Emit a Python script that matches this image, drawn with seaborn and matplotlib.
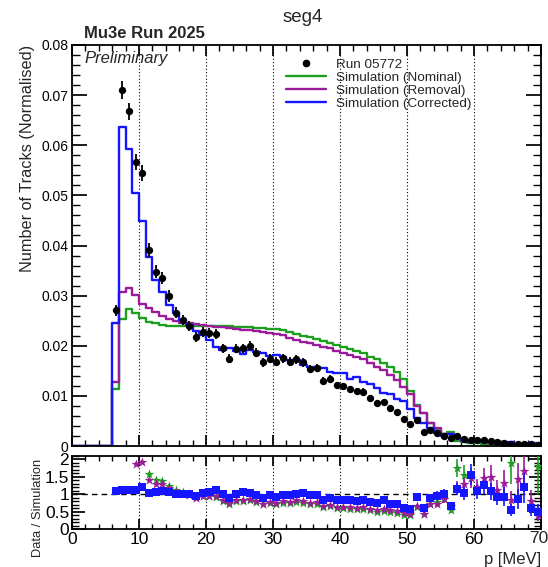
import numpy as np
import pandas as pd
import matplotlib
matplotlib.use("Agg")
import matplotlib.pyplot as plt
from matplotlib.lines import Line2D
from matplotlib.ticker import MultipleLocator, FuncFormatter
import seaborn as sns

sns.set_theme(style="ticks")
plt.rcParams["font.family"] = ["Liberation Sans", "DejaVu Sans"]

# 1 MeV momentum bins from 0 to 70 MeV
bin_edges = list(range(0, 71))
bin_centres = np.arange(70) + 0.5

# Measured track momentum spectrum (normalised), bins 6..69
data_p = bin_centres[6:]
data_val = [
    0.0271, 0.0710, 0.0668, 0.0567, 0.0545, 0.0391, 0.0348, 0.0335, 0.0299, 0.0266,
    0.0251, 0.0240, 0.0218, 0.0227, 0.0225, 0.0223, 0.0195, 0.0174, 0.0194, 0.0195,
    0.0200, 0.0186, 0.0167, 0.0174, 0.0168, 0.0175, 0.0168, 0.0173, 0.0167, 0.0153,
    0.0155, 0.0130, 0.0134, 0.0121, 0.0119, 0.0113, 0.0109, 0.0108, 0.0096, 0.0086,
    0.0088, 0.0076, 0.0067, 0.0054, 0.0043, 0.0052, 0.0028, 0.0032, 0.0025, 0.0020,
    0.0015, 0.0019, 0.0013, 0.0012, 0.0012, 0.0011, 0.0009, 0.0007, 0.0005, 0.0004,
    0.0004, 0.0003, 0.0003, 0.0002,
]
data_err = [
    0.00109, 0.00176, 0.00171, 0.00157, 0.00154, 0.00130, 0.00123, 0.00121, 0.00114, 0.00108,
    0.00105, 0.00102, 0.00097, 0.00099, 0.00099, 0.00099, 0.00092, 0.00087, 0.00092, 0.00092,
    0.00093, 0.00090, 0.00085, 0.00087, 0.00086, 0.00087, 0.00086, 0.00087, 0.00085, 0.00082,
    0.00082, 0.00075, 0.00076, 0.00073, 0.00072, 0.00070, 0.00069, 0.00069, 0.00065, 0.00061,
    0.00062, 0.00058, 0.00054, 0.00049, 0.00043, 0.00048, 0.00035, 0.00037, 0.00033, 0.00030,
    0.00026, 0.00029, 0.00024, 0.00023, 0.00023, 0.00022, 0.00020, 0.00017, 0.00015, 0.00013,
    0.00013, 0.00011, 0.00011, 0.00009,
]

# Simulated spectra, bins 0..69
sim_nominal = [
    0, 0, 0, 0, 0, 0, 0.0114, 0.0253, 0.0273, 0.0265,
    0.0255, 0.0248, 0.0245, 0.0241, 0.0240, 0.0239, 0.0239, 0.0239, 0.0239, 0.0240,
    0.0240, 0.0240, 0.0239, 0.0239, 0.0238, 0.0238, 0.0237, 0.0236, 0.0235, 0.0234,
    0.0233, 0.0231, 0.0228, 0.0224, 0.0220, 0.0217, 0.0213, 0.0209, 0.0205, 0.0201,
    0.0197, 0.0194, 0.0190, 0.0185, 0.0178, 0.0173, 0.0166, 0.0158, 0.0147, 0.0133,
    0.0110, 0.0082, 0.0066, 0.0045, 0.0032, 0.0023, 0.0027, 0.00108, 0.00083, 0.0005,
    0.0005, 0.0004, 0.0004, 0.0003, 0.0002, 0.00021, 0.00015, 0.0001, 0.0001, 0.00011,
]
sim_removal = [
    0, 0, 0, 0, 0, 0, 0.0127, 0.0308, 0.0315, 0.0301,
    0.0283, 0.0275, 0.0267, 0.0259, 0.0253, 0.0249, 0.0246, 0.0245, 0.0243, 0.0241,
    0.0240, 0.0238, 0.0237, 0.0236, 0.0234, 0.0232, 0.0231, 0.0229, 0.0228, 0.0226,
    0.0224, 0.0221, 0.0216, 0.0211, 0.0208, 0.0205, 0.0201, 0.0198, 0.0195, 0.0190,
    0.0186, 0.0181, 0.0178, 0.0173, 0.0166, 0.0158, 0.0152, 0.0142, 0.0132, 0.0118,
    0.0103, 0.0080, 0.0066, 0.0045, 0.0035, 0.0023, 0.0023, 0.0016, 0.0010, 0.00082,
    0.0010, 0.00075, 0.0006, 0.00062, 0.00038, 0.00048, 0.00028, 0.00018, 0.00037, 0.0005,
]
sim_corrected = [
    0, 0, 0, 0, 0, 0, 0.0246, 0.0637, 0.0592, 0.0504,
    0.0448, 0.0378, 0.0331, 0.0307, 0.0282, 0.0265, 0.0251, 0.0241, 0.0229, 0.0222,
    0.0211, 0.0198, 0.0192, 0.0196, 0.0190, 0.0184, 0.0191, 0.0188, 0.0185, 0.0180,
    0.0181, 0.0178, 0.0171, 0.0171, 0.0161, 0.0158, 0.0158, 0.0155, 0.0148, 0.0145,
    0.0145, 0.0134, 0.0137, 0.0128, 0.0124, 0.0116, 0.0106, 0.0104, 0.0093, 0.0090,
    0.0074, 0.0056, 0.0046, 0.0036, 0.0026, 0.0020, 0.0023, 0.00165, 0.00126, 0.00077,
    0.00111, 0.00087, 0.00083, 0.00076, 0.00054, 0.00073, 0.00046, 0.00025, 0.0005, 0.0004,
]

series = [
    ("Simulation (Nominal)", sim_nominal, "#1f9f1f", "*"),
    ("Simulation (Removal)", sim_removal, "#9b1b9b", "*"),
    ("Simulation (Corrected)", sim_corrected, "#1515ff", "s"),
]

W, H = 548, 567
fig = plt.figure(figsize=(W / 100, H / 100), dpi=100)
fig.patch.set_facecolor("white")


def frac_box(x0, y0, x1, y1):
    return [x0 / W, 1 - y1 / H, (x1 - x0) / W, (y1 - y0) / H]


ax = fig.add_axes(frac_box(72, 45, 541, 446))
rax = fig.add_axes(frac_box(72, 456, 541, 529))

# ---- main panel ----
for label, vals, col, _ in series:
    hist_df = pd.DataFrame({"p": bin_centres, "w": vals})
    sns.histplot(data=hist_df, x="p", weights="w", bins=bin_edges, element="step",
                 fill=False, color=col, linewidth=1.7, ax=ax)

ax.errorbar(data_p, data_val, yerr=data_err, fmt="none", ecolor="black",
            elinewidth=1.3, capsize=0, zorder=4)
sns.scatterplot(x=data_p, y=data_val, color="black", s=28, linewidth=0,
                ax=ax, zorder=5)

ax.set_xlim(0, 70)
ax.set_ylim(0, 0.08)
ax.set_xlabel("")
ax.set_ylabel("Number of Tracks (Normalised)", fontsize=11.7, loc="top")
ax.yaxis.set_label_coords(-0.079, 1.0)
ax.xaxis.set_major_locator(MultipleLocator(10))
ax.xaxis.set_minor_locator(MultipleLocator(2))
ax.yaxis.set_major_locator(MultipleLocator(0.01))
ax.yaxis.set_minor_locator(MultipleLocator(0.002))
ax.yaxis.set_major_formatter(FuncFormatter(lambda v, _: "0" if v == 0 else f"{v:.2f}"))
ax.tick_params(axis="both", which="both", direction="in", top=True, right=True,
               labelsize=10, colors="black", pad=2.6)
ax.tick_params(axis="x", which="major", length=8, labelbottom=False)
ax.tick_params(axis="x", which="minor", length=4)
ax.tick_params(axis="y", which="major", length=11)
ax.tick_params(axis="y", which="minor", length=6)
ax.grid(axis="x", which="major", linestyle=(0, (1, 2)), color="black", linewidth=0.8)

handles = [Line2D([], [], marker="o", color="black", linestyle="none", markersize=4.5)]
handles += [Line2D([], [], color=col, linewidth=1.7) for _, _, col, _ in series]
labels = ["Run 05772"] + [s[0] for s in series]
ax.legend(handles, labels, loc="upper left", bbox_to_anchor=(0.4445, 0.980),
          frameon=False, fontsize=9.7, handlelength=2.95, handletextpad=0.74,
          labelspacing=0.05, borderaxespad=0)

# ---- ratio panel ----
ymax_r = 2.1
data_arr = np.asarray(data_val)
err_arr = np.asarray(data_err)
for label, vals, col, mk in series:
    sim = np.asarray(vals)[6:]
    ratio = data_arr / sim
    rerr = err_arr / sim
    keep = ratio <= ymax_r
    rax.errorbar(data_p[keep], ratio[keep], yerr=rerr[keep], fmt="none",
                 ecolor=col, elinewidth=1.2, capsize=0, zorder=3)
    sns.scatterplot(x=data_p[keep], y=ratio[keep], color=col, marker=mk,
                    s=55 if mk == "*" else 40, linewidth=0, ax=rax, zorder=4)

rax.axhline(1, color="black", linestyle=(0, (4, 3)), linewidth=1)
rax.set_xlim(0, 70)
rax.set_ylim(0, ymax_r)
rax.xaxis.set_major_locator(MultipleLocator(10))
rax.xaxis.set_minor_locator(MultipleLocator(2))
rax.yaxis.set_major_locator(MultipleLocator(0.5))
rax.yaxis.set_minor_locator(MultipleLocator(0.1))
rax.yaxis.set_major_formatter(FuncFormatter(lambda v, _: f"{v:g}"))
# the last x label is placed separately so it stays inside the canvas
rax.xaxis.set_major_formatter(FuncFormatter(lambda v, _: "" if v >= 70 else f"{v:g}"))
rax.tick_params(axis="both", which="both", direction="in", top=True, right=True,
                labelsize=12.5, colors="black", pad=2)
rax.tick_params(axis="x", which="major", length=7)
rax.tick_params(axis="x", which="minor", length=3.5)
rax.tick_params(axis="y", which="major", length=9)
rax.tick_params(axis="y", which="minor", length=5)
rax.grid(axis="x", which="major", linestyle=(0, (1, 2)), color="black", linewidth=0.8)
rax.set_ylabel("Data / Simulation", fontsize=9.3)
rax.yaxis.set_label_coords(-0.06, 0.288)
rax.set_xlabel("p [MeV]", fontsize=12, loc="right", labelpad=4)
fig.text(539 / W, 1 - 531 / H, "70", ha="center", va="top", fontsize=12.5)

for a in (ax, rax):
    for sp in a.spines.values():
        sp.set_color("black")
        sp.set_linewidth(1.3)

fig.text(303 / W, 1 - 18 / H, "seg4", ha="center", va="center", fontsize=13.5)
fig.text(84 / W, 1 - 33 / H, "Mu3e Run 2025", ha="left", va="center",
         fontsize=12, fontweight="bold")
fig.text(84 / W, 1 - 58 / H, "Preliminary", ha="left", va="center",
         fontsize=12, fontstyle="italic")

fig.savefig("out.png", dpi=100, facecolor="white")
